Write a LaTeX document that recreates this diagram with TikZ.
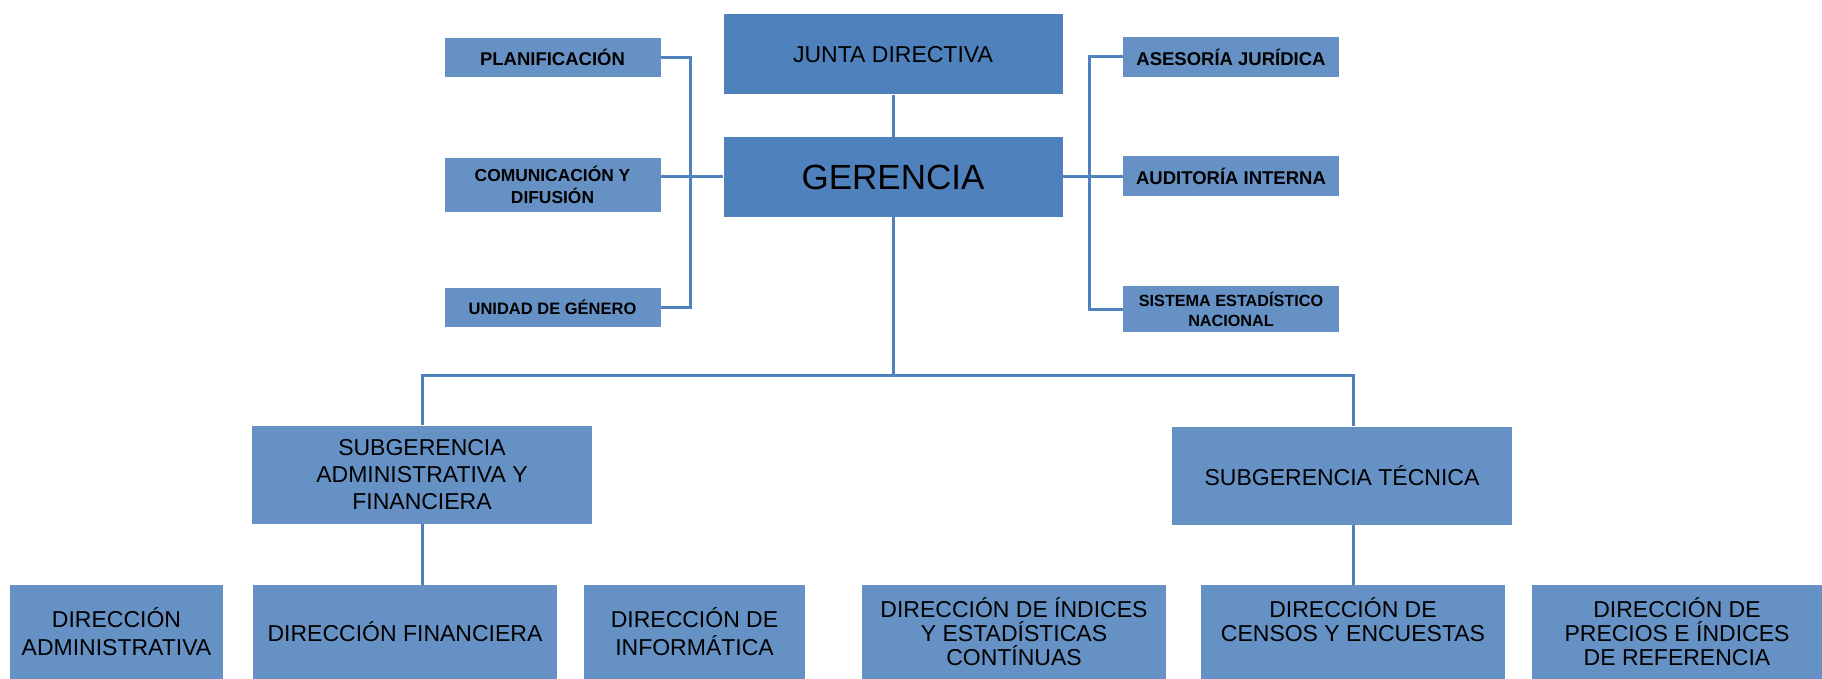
\documentclass[tikz,border=0pt]{standalone}
\usepackage{fontspec}
\setmainfont{Liberation Sans}
\definecolor{boardblue}{HTML}{4F81BD}
\definecolor{unitblue}{HTML}{6591C5}

\begin{document}
\begin{tikzpicture}[x=1pt, y=-1pt,
  mainbox/.style={fill=boardblue, minimum width=339, minimum height=80, inner sep=0pt},
  sidebox/.style={fill=unitblue, minimum width=216, inner sep=0pt, align=center,
    font=\bfseries\fontsize{18.5}{22}\selectfont},
  subbox/.style={fill=unitblue, minimum width=340, minimum height=98, inner sep=0pt, align=center,
    font=\fontsize{23}{27}\selectfont},
  dirbox/.style={fill=unitblue, minimum height=94, inner sep=0pt, align=center,
    font=\fontsize{23}{24}\selectfont},
  link/.style={draw=boardblue, line width=3pt}]
\useasboundingbox (0,0) rectangle (1822,679);
% Board and management
\node[mainbox, font=\fontsize{23}{28}\selectfont] (junta) at (893,54.5) {JUNTA DIRECTIVA};
\node[mainbox, font=\fontsize{35}{40}\selectfont] (geren) at (893,177) {GERENCIA};
% Staff units, left
\node[sidebox, minimum height=39] (planif) at (552.5,57.5) {PLANIFICACIÓN};
\node[sidebox, minimum height=53, font=\bfseries\fontsize{17.4}{22}\selectfont] (comun) at (552.5,185) {COMUNICACIÓN Y\\DIFUSIÓN};
\node[sidebox, minimum height=39, font=\bfseries\fontsize{16.5}{20}\selectfont] (genero) at (552.5,307.5) {UNIDAD DE GÉNERO};
% Staff units, right
\node[sidebox, minimum height=40] (asesor) at (1231,57) {ASESORÍA JURÍDICA};
\node[sidebox, minimum height=40] (auditor) at (1231,176) {AUDITORÍA INTERNA};
\node[sidebox, minimum height=46, font=\bfseries\fontsize{16.2}{20}\selectfont] (sistema) at (1231,309) {SISTEMA ESTADÍSTICO\\NACIONAL};
% Sub-managements
\node[subbox] (subadm) at (422,474.5) {SUBGERENCIA\\ADMINISTRATIVA Y\\FINANCIERA};
\node[subbox] (subtec) at (1342,475.5) {SUBGERENCIA TÉCNICA};
% Directions
\node[dirbox, minimum width=213, font=\fontsize{23}{28}\selectfont] (dadm) at (116.5,632) {DIRECCIÓN\\ADMINISTRATIVA};
\node[dirbox, minimum width=304] (dfin) at (405,632) {DIRECCIÓN FINANCIERA};
\node[dirbox, minimum width=221, font=\fontsize{23}{28}\selectfont] (dinf) at (694.5,632) {DIRECCIÓN DE\\INFORMÁTICA};
\node[dirbox, minimum width=304] (dind) at (1014,632) {DIRECCIÓN DE ÍNDICES\\Y ESTADÍSTICAS\\CONTÍNUAS};
\node[dirbox, minimum width=304, text depth=24pt] (dcen) at (1353,632) {DIRECCIÓN DE\\CENSOS Y ENCUESTAS};
\node[dirbox, minimum width=290] (dpre) at (1677,632) {DIRECCIÓN DE\\PRECIOS E ÍNDICES\\DE REFERENCIA};
% Connectors
\draw[link] (junta) -- (geren);
\draw[link] (planif.east) -- ++(30,0) |- (genero.east);
\draw[link] (geren.west) -- (geren.west -| comun.east);
\draw[link] (asesor.west) -- ++(-33,0) |- (sistema.west);
\draw[link] (geren.east) -- (geren.east -| auditor.west);
\coordinate (split) at (893,375);
\draw[link] (geren.south) -- (split);
\draw[link] (subadm.north) |- (split) -| (dcen.north |- subtec.north);
\draw[link] (subadm.south) -- (subadm.south |- dfin.north);
\draw[link] (dcen.north |- subtec.south) -- (dcen.north);
\end{tikzpicture}
\end{document}
